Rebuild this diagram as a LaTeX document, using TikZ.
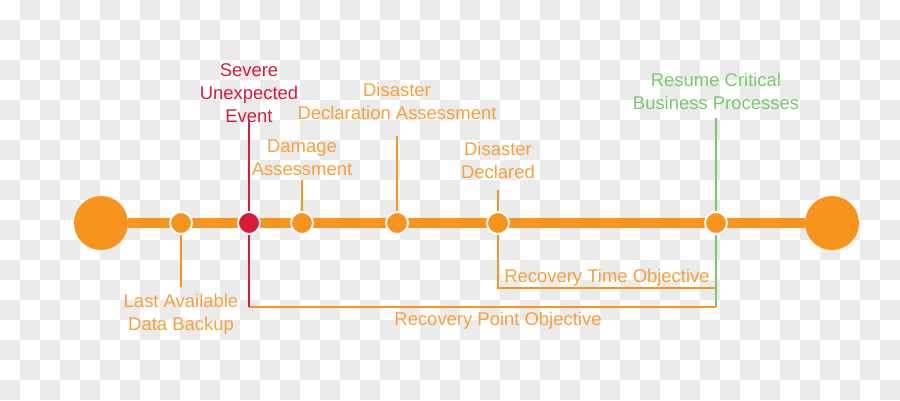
\documentclass[tikz,border=0pt]{standalone}
\usepackage{fontspec}
\setmainfont{Liberation Sans}
\usetikzlibrary{positioning,backgrounds}
\definecolor{lineorange}{RGB}{247,148,30}
\definecolor{textorange}{RGB}{248,160,60}
\definecolor{eventred}{RGB}{214,28,58}
\definecolor{resumegreen}{RGB}{125,200,110}
\definecolor{checkgray}{RGB}{235,235,235}

\tikzset{
  bigdot/.style={circle,fill=lineorange,minimum size=1.08cm,inner sep=0pt},
  tickdot/.style={circle,fill=lineorange,draw=white,line width=1.1pt,
                  minimum size=0.44cm,inner sep=0pt},
  mainbar/.style={lineorange,line width=5.6pt},
  tickline/.style={lineorange,line width=0.9pt},
  tltext/.style={text=textorange,align=center,inner sep=0pt,
                 font=\fontsize{10.5}{13}\selectfont}
}

\begin{document}
\begin{tikzpicture}[x=0.02cm,y=-0.02cm]
    \useasboundingbox (0,0) rectangle (900,400);

    \node[tltext,text=eventred] (severetxt) at (249,93) {Severe\\Unexpected\\Event};
    \node[tltext] (damagetxt) at (302,158) {Damage\\Assessment};
    \node[tltext] (assesstxt) at (397,101) {Disaster\\Declaration Assessment};
    \node[tltext] (declaredtxt) at (498,160) {Disaster\\Declared};
    \node[tltext,text=resumegreen] (resumetxt) at (716,91) {Resume Critical\\Business Processes};
    \node[tltext] (backuptxt) at (181,314) {Last Available\\Data Backup};
    \node[tltext] (rtotxt) at (607,278) {Recovery Time Objective};
    \node[tltext] (rpotxt) at (498,321) {Recovery Point Objective};

    \node[bigdot] (start) at (101,223) {};
    \node[tickdot] (backup) at (181,223) {};
    \node[tickdot,fill=eventred] (severe) at (249,223) {};
    \node[tickdot] (damage) at (302,223) {};
    \node[tickdot] (assess) at (397,223) {};
    \node[tickdot] (declared) at (498,223) {};
    \node[tickdot] (resume) at (716,223) {};
    \node[bigdot] (finish) at (832,223) {};

    \coordinate (severetop) at (249,120);
    \coordinate (damagetop) at (302,180);
    \coordinate (assesstop) at (397,136);
    \coordinate (declaredtop) at (498,190);
    \coordinate (resumetop) at (716,118);
    \coordinate (backupend) at (181,287);
    \coordinate (rtocorner) at (716,288);
    \coordinate (rpocorner) at (716,307);

    \begin{pgfonlayer}{background}
      \fill[white] (0,0) rectangle (900,400);
      \foreach \i in {0,...,44}{
        \foreach \j in {0,...,19}{
          \pgfmathtruncatemacro\k{\i+\j}
          \ifodd\k \fill[checkgray] (20*\i,20*\j) rectangle ++(20,20);\fi
        }
      }
      \draw[mainbar] (start) -- (finish);
      \draw[tickline] (backup) -- (backupend);
      \draw[tickline] (damagetop) -- (damage);
      \draw[tickline] (assesstop) -- (assess);
      \draw[tickline] (declaredtop) -- (declared);
      \draw[tickline] (declared) -- (declared |- rtocorner) -- (rtocorner);
      \draw[tickline] (severe |- rpocorner) -- (rpocorner);
      \draw[tickline,eventred] (severetop) -- (severe) -- (severe |- rpocorner);
      \draw[tickline,resumegreen] (resumetop) -- (rpocorner);
    \end{pgfonlayer}
\end{tikzpicture}
\end{document}
